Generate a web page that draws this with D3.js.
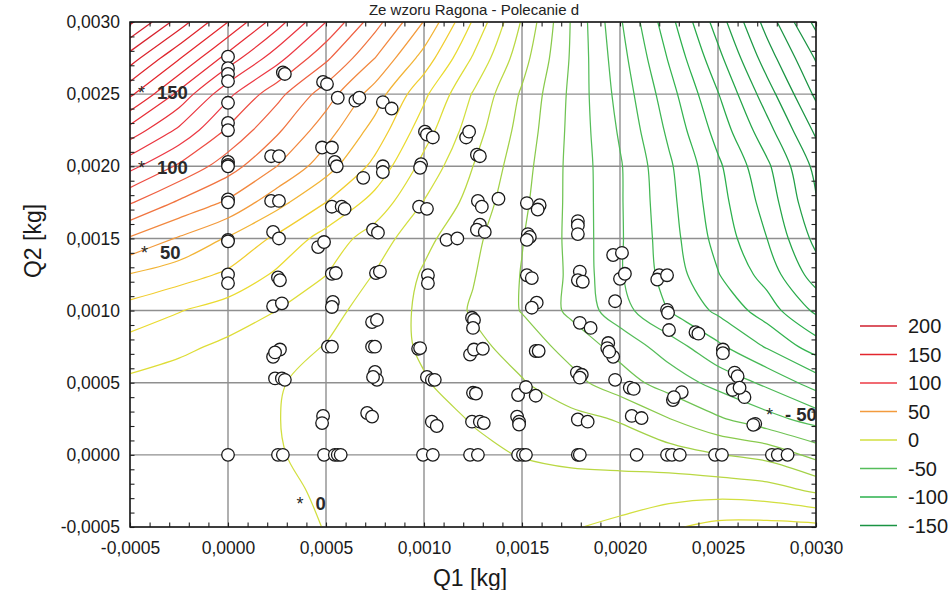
<!DOCTYPE html>
<html>
<head>
<meta charset="utf-8">
<script src="https://cdn.jsdelivr.net/npm/d3@7"></script>
<style>
  html, body { margin: 0; padding: 0; background: #ffffff; }
  svg { display: block; font-family: "Liberation Sans", Arial, Helvetica, sans-serif; }
</style>
</head>
<body>
<svg id="chart" width="952" height="590"></svg>
<script>
// ---- fitted response surface, sampled on a regular grid (Q1 across, Q2 down) ----
const gridQ1 = [-0.0005, -0.00025, 0, 0.00025, 0.0005, 0.00075, 0.001, 0.00125, 0.0015, 0.00175, 0.002, 0.00225, 0.0025, 0.00275, 0.003];
const gridQ2 = [0.003, 0.00275, 0.0025, 0.00225, 0.002, 0.00175, 0.0015, 0.00125, 0.001, 0.00075, 0.0005, 0.00025, 0, -0.00025, -0.0005];
const surface = [
  [202, 175.5, 150, 124.5, 100, 74, 49.5, 19, -11, -40.5, -68.7, -96.3, -124.7, -154, -183],
  [175, 151, 126, 104, 82, 60, 36, 9, -16, -41, -66, -91, -117, -145, -171],
  [152, 127.3, 102.5, 83.3, 64.8, 45.3, 22.2, -0.8, -21.4, -42, -63.6, -85.9, -109.5, -135.3, -162],
  [126, 108, 88.5, 71.7, 54.5, 36.2, 14.5, -5.4, -23.8, -42.4, -61.3, -82.1, -103.8, -126.4, -152],
  [103, 88.4, 74.5, 60, 44.2, 27.1, 6.7, -10, -26.1, -42.7, -59, -78.3, -98.1, -118, -143],
  [81, 68.5, 58.4, 43.4, 30, 16.2, -0.4, -13.7, -27.8, -42.5, -58.9, -76.9, -95.9, -114, -139],
  [59, 49, 39, 28, 15.9, 5.3, -7.4, -17.4, -29.5, -42.4, -58.8, -75.7, -93.5, -110, -133],
  [39.5, 34.3, 28.3, 18.3, 10.2, -0.5, -11.2, -19.3, -30.5, -41.8, -59, -74.2, -89.5, -104, -125],
  [26, 20.5, 15.2, 10, 3.2, -4.1, -12, -21.1, -30.5, -42.2, -55.7, -70.3, -82, -95, -112],
  [16, 12.1, 8, 3.8, -0.4, -5.8, -11.2, -17.1, -24.5, -33.6, -43.6, -54.8, -68, -81, -95],
  [8, 5.5, 3.1, 0.6, -2.5, -6, -9.4, -14.2, -19.2, -26.8, -35.5, -44.4, -53.3, -62.2, -74.5],
  [7, 4.7, 2.4, 0.2, -2.5, -5.1, -7.7, -10.4, -13.7, -17, -20.9, -29.8, -38.7, -46.5, -54.2],
  [6, 4.1, 2.3, 0.4, -1.7, -3.9, -6.1, -8.5, -10.3, -12, -13.4, -15.3, -19.6, -23, -33.1],
  [6, 4.5, 3, 1.2, -0.8, -3, -5, -6.5, -7, -6.5, -5.7, -4.7, -3.9, -5.7, -11.3],
  [6, 5, 3.8, 2, -0.2, -2.5, -4.5, -5.5, -3.5, -0.8, 2.5, 8.7, 13, 13.5, 12.6]
];

// ---- isoline levels and their colours ----
const contourLevels = [-180, -170, -160, -150, -140, -130, -120, -110, -100, -90, -80, -70, -60, -50, -40, -30, -20, -10,
                       0, 10, 20, 30, 40, 50, 60, 70, 80, 90, 100, 110, 120, 130, 140, 150, 160, 170, 180, 190, 200];
const legendLevels = [200, 150, 100, 50, 0, -50, -100, -150];
const legendColors = ["#cf1f2e", "#e3262d", "#ec3a45", "#f39b3d", "#d2df3f", "#55bd5a", "#2bb04c", "#1a9443"];
const rampLevels = [200, 150, 100, 50, 25, 0, -25, -50, -100, -150];
const rampColors = ["#cf1f2e", "#e3262d", "#ec3a45", "#f39b3d", "#f0da2c", "#d2df3f", "#96cd49", "#55bd5a", "#2bb04c", "#1a9443"];

// ---- labelled isolines ----
const labelTexts = ["150", "100", "50", "0", "- 50"];
const labelQ1 = [-0.000434, -0.000434, -0.000418, 0.000375, 0.00277];
const labelQ2 = [0.002536, 0.002017, 0.001428, -0.000312, 0.000305];

// ---- observations ----
const obsQ1 = [
  0, 0, 0, 0, 0, 0, 0, 0, 0, 0, 0, 0, 0, 0, 0, 0, 0,
  0.00028, 0.00029, 0.00022, 0.00026, 0.00022, 0.00026, 0.00023, 0.00026, 0.000255, 0.000265,
  0.00023, 0.000275, 0.00023, 0.000265, 0.00024, 0.00024, 0.000275, 0.00029, 0.000255, 0.00028,
  0.000485, 0.000505, 0.00048, 0.00053, 0.000545, 0.000555, 0.00053, 0.00058, 0.000595, 0.00046,
  0.00049, 0.00053, 0.00055, 0.000535, 0.00053, 0.00051, 0.00053, 0.000485, 0.00048, 0.00049,
  0.000545, 0.00056, 0.000575,
  0.00056, 0.00065, 0.00067, 0.00079, 0.000835, 0.00069, 0.00079, 0.00079, 0.00074, 0.000765,
  0.000755, 0.000775, 0.000735, 0.00076, 0.000735, 0.00075, 0.00075, 0.00076, 0.00074, 0.00071, 0.000735,
  0.001005, 0.001015, 0.001045, 0.000985, 0.00098, 0.000975, 0.001015, 0.00102, 0.00102, 0.00097,
  0.00098, 0.001015, 0.00104, 0.001055, 0.00104, 0.001065, 0.000995, 0.001045,
  0.001215, 0.00123, 0.00127, 0.001285, 0.001275, 0.001295, 0.00138, 0.001285, 0.00127, 0.00131,
  0.001115, 0.00117, 0.001245, 0.001255, 0.00125, 0.001235, 0.001255, 0.0013, 0.00125, 0.001265,
  0.001245, 0.001285, 0.001305, 0.001235, 0.001275,
  0.001525, 0.00159, 0.00158, 0.00153, 0.00154, 0.001525, 0.001525, 0.00155, 0.001575, 0.00155,
  0.00157, 0.001585, 0.00148, 0.00152, 0.00157, 0.001475, 0.001485, 0.001485, 0.00148, 0.001505, 0.00152,
  0.001785, 0.001785, 0.001785, 0.001795, 0.001785, 0.00181, 0.001795, 0.00185, 0.00178, 0.001805,
  0.001795, 0.001785, 0.001835, 0.001785, 0.001795,
  0.001965, 0.00201, 0.002, 0.002025, 0.001975, 0.00194, 0.001935, 0.001965, 0.001945, 0.001975,
  0.00205, 0.00207, 0.00206, 0.00211, 0.002085,
  0.0022, 0.00219, 0.00224, 0.00224, 0.002245, 0.00225, 0.002385, 0.0024, 0.00227, 0.002315,
  0.002275, 0.00224, 0.002265, 0.002305,
  0.002525, 0.002525, 0.002585, 0.0026, 0.002575, 0.002635, 0.00261, 0.00269, 0.00268, 0.002485,
  0.00252, 0.002775, 0.002805, 0.002855
];
const obsQ2 = [
  0.00276, 0.00268, 0.00264, 0.00259, 0.00244, 0.0023, 0.00225, 0.00203, 0.00201, 0.002, 0.00177, 0.00175,
  0.00149, 0.00148, 0.00125, 0.00119, 0,
  0.00265, 0.00264, 0.00207, 0.00207, 0.00176, 0.00176, 0.001545, 0.0015, 0.00123, 0.00121,
  0.00103, 0.00105, 0.00068, 0.00073, 0.00071, 0.00053, 0.00053, 0.00052, 0, 0,
  0.002585, 0.00257, 0.00213, 0.00213, 0.00203, 0.002, 0.00172, 0.00172, 0.001705, 0.00144,
  0.001475, 0.001255, 0.00126, 0.00106, 0.001025, 0.00075, 0.00075, 0.00027, 0.00022, 0,
  0, 0, 0,
  0.002475, 0.002455, 0.002475, 0.002445, 0.0024, 0.00192, 0.002, 0.00196, 0.00156, 0.00154,
  0.00126, 0.00127, 0.00092, 0.000935, 0.00075, 0.00075, 0.000575, 0.00052, 0.00054, 0.00029, 0.000265,
  0.00224, 0.00222, 0.0022, 0.002015, 0.00199, 0.00172, 0.001705, 0.001245, 0.00119, 0.000735,
  0.00074, 0.00054, 0.00052, 0.00052, 0.00023, 0.0002, 0, 0,
  0.0022, 0.00224, 0.00208, 0.00207, 0.00176, 0.00172, 0.001775, 0.001595, 0.00156, 0.001545,
  0.00149, 0.0015, 0.00095, 0.000935, 0.00088, 0.000695, 0.00073, 0.000735, 0.00043, 0.000425,
  0.00023, 0.00023, 0.00022, 0, 0,
  0.001745, 0.00173, 0.0017, 0.00153, 0.00151, 0.00149, 0.001245, 0.001225, 0.001055, 0.00102,
  0.00072, 0.00072, 0.000415, 0.00047, 0.00041, 0.000265, 0.00023, 0.00021, 0, 0, 0,
  0.00162, 0.00159, 0.00153, 0.00127, 0.00121, 0.0012, 0.000915, 0.00088, 0.00057, 0.000555,
  0.000535, 0.000245, 0.00023, 0, 0,
  0.001385, 0.0014, 0.00122, 0.001255, 0.001065, 0.000775, 0.00074, 0.00068, 0.000715, 0.00052,
  0.000465, 0.000457, 0.00027, 0.000255, 0,
  0.001245, 0.001215, 0.001245, 0.001005, 0.000985, 0.000865, 0.00085, 0.00084, 0.00038, 0.000435,
  0.0004, 0, 0, 0,
  0.00073, 0.000705, 0.00057, 0.000545, 0.00045, 0.0004, 0.000465, 0.000215, 0.000208, 0,
  0, 0, 0, 0
];

// ---- axes ----
const tickValues = [-0.0005, 0, 0.0005, 0.001, 0.0015, 0.002, 0.0025, 0.003];
const xTickLabels = ["-0,0005", "0,0000", "0,0005", "0,0010", "0,0015", "0,0020", "0,0025", "0,0030"];
const yTickLabels = ["-0,0005", "0,0000", "0,0005", "0,0010", "0,0015", "0,0020", "0,0025", "0,0030"];
const titleText = "Ze wzoru Ragona - Polecanie d";

const svg = d3.select("#chart");
const plot = { left: 130, right: 816, top: 22, bottom: 527 };

const x = d3.scaleLinear().domain([-0.0005, 0.003]).range([plot.left, plot.right]);
const y = d3.scaleLinear().domain([-0.0005, 0.003]).range([plot.bottom, plot.top]);
const levelColor = d3.scaleLinear().domain(rampLevels).range(rampColors).clamp(true);

svg.append("defs").append("clipPath").attr("id", "plot-clip")
  .append("rect")
  .attr("x", plot.left).attr("y", plot.top)
  .attr("width", plot.right - plot.left).attr("height", plot.bottom - plot.top);

// title above the plot frame
svg.append("text")
  .attr("x", 474).attr("y", 15)
  .attr("text-anchor", "middle")
  .attr("font-size", 15)
  .attr("fill", "#222")
  .text(titleText);

// grid lines
const grid = svg.append("g").attr("stroke", "#8f8f8f").attr("stroke-width", 1.4);
grid.selectAll("line.gx").data(tickValues).join("line")
  .attr("x1", d => x(d)).attr("x2", d => x(d))
  .attr("y1", plot.top).attr("y2", plot.bottom);
grid.selectAll("line.gy").data(tickValues).join("line")
  .attr("y1", d => y(d)).attr("y2", d => y(d))
  .attr("x1", plot.left).attr("x2", plot.right);

// ---- isolines from the gridded surface ----
const nx = gridQ1.length, ny = gridQ2.length;
const contours = d3.contours().size([nx, ny]).thresholds(contourLevels)(surface.flat());
const gx = d3.scaleLinear().domain([0.5, nx - 0.5]).range([x(gridQ1[0]), x(gridQ1[nx - 1])]);
const gy = d3.scaleLinear().domain([0.5, ny - 0.5]).range([y(gridQ2[0]), y(gridQ2[ny - 1])]);

// split the closed contour rings into open isolines, dropping the parts that run along the grid border
function isolines(geometry) {
  const out = [];
  const onBorder = p => p[0] <= 0 || p[0] >= nx || p[1] <= 0 || p[1] >= ny;
  for (const polygon of geometry.coordinates) {
    for (const ring of polygon) {
      let pts = ring.slice();
      const a = pts[0], b = pts[pts.length - 1];
      if (pts.length > 1 && a[0] === b[0] && a[1] === b[1]) pts.pop();
      const n = pts.length;
      const start = pts.findIndex(onBorder);
      if (start < 0) { out.push({ pts: pts, closed: true }); continue; }
      let cur = [];
      for (let k = 1; k <= n; k++) {
        const p = pts[(start + k) % n];
        if (onBorder(p)) { if (cur.length > 1) out.push({ pts: cur, closed: false }); cur = []; }
        else cur.push(p);
      }
      if (cur.length > 1) out.push({ pts: cur, closed: false });
    }
  }
  return out;
}

const openLine = d3.line().x(p => gx(p[0])).y(p => gy(p[1])).curve(d3.curveCatmullRom.alpha(0.5));
const closedLine = d3.line().x(p => gx(p[0])).y(p => gy(p[1])).curve(d3.curveCatmullRomClosed.alpha(0.5));

const isoGroup = svg.append("g").attr("clip-path", "url(#plot-clip)").attr("fill", "none").attr("stroke-width", 1.25);
contours.forEach(c => {
  isolines(c).forEach(seg => {
    isoGroup.append("path")
      .attr("d", seg.closed ? closedLine(seg.pts) : openLine(seg.pts))
      .attr("stroke", levelColor(c.value));
  });
});

// inner tick marks on all four sides
const minorTicks = x.ticks(35);
const tickGroups = [
  { axis: d3.axisTop(x), t: `translate(0,${plot.top})` },
  { axis: d3.axisBottom(x), t: `translate(0,${plot.bottom})` },
  { axis: d3.axisLeft(y), t: `translate(${plot.left},0)` },
  { axis: d3.axisRight(y), t: `translate(${plot.right},0)` }
];
tickGroups.forEach(g => {
  const sel = svg.append("g").attr("transform", g.t)
    .call(g.axis.tickValues(minorTicks).tickSize(-4.5).tickFormat(""));
  sel.select(".domain").remove();
  sel.selectAll("line").attr("stroke", "#222").attr("stroke-width", 1.1);
});

// frame
svg.append("rect")
  .attr("x", plot.left).attr("y", plot.top)
  .attr("width", plot.right - plot.left).attr("height", plot.bottom - plot.top)
  .attr("fill", "none").attr("stroke", "#1a1a1a").attr("stroke-width", 1.5);

// tick labels
const xAxis = svg.append("g").attr("transform", `translate(0,${plot.bottom})`)
  .call(d3.axisBottom(x).tickValues(tickValues).tickSize(0).tickPadding(15)
    .tickFormat((d, i) => xTickLabels[i]));
const yAxis = svg.append("g").attr("transform", `translate(${plot.left},0)`)
  .call(d3.axisLeft(y).tickValues(tickValues).tickSize(0).tickPadding(10)
    .tickFormat((d, i) => yTickLabels[i]));
[xAxis, yAxis].forEach(a => {
  a.select(".domain").remove();
  a.selectAll("text").attr("font-size", 17.5).attr("fill", "#1a1a1a")
    .attr("font-family", "'Liberation Sans', Arial, sans-serif");
});

// axis titles
svg.append("text")
  .attr("x", 470).attr("y", 586)
  .attr("text-anchor", "middle").attr("font-size", 23).attr("fill", "#1a1a1a")
  .text("Q1 [kg]");
svg.append("text")
  .attr("transform", "translate(41,241) rotate(-90)")
  .attr("text-anchor", "middle").attr("font-size", 23).attr("fill", "#1a1a1a")
  .text("Q2 [kg]");

// observations
svg.append("g")
  .selectAll("circle").data(obsQ1.map((q, i) => [q, obsQ2[i]])).join("circle")
  .attr("cx", d => x(d[0])).attr("cy", d => y(d[1]))
  .attr("r", 6.3)
  .attr("fill", "#ffffff").attr("stroke", "#1a1a1a").attr("stroke-width", 1.3);

// isoline labels
const labels = svg.append("g").attr("fill", "#2a2a2a");
labelTexts.forEach((t, i) => {
  const px = x(labelQ1[i]), py = y(labelQ2[i]);
  labels.append("text").attr("x", px - 5).attr("y", py + 10).attr("font-size", 18).text("*");
  labels.append("text").attr("x", px + 14).attr("y", py + 10)
    .attr("font-size", 18.5).attr("font-weight", "bold").text(t);
});

// legend
const legend = svg.append("g");
legendLevels.forEach((lv, i) => {
  const ly = 326 + i * 28.5;
  legend.append("line")
    .attr("x1", 860).attr("x2", 897).attr("y1", ly).attr("y2", ly)
    .attr("stroke", legendColors[i]).attr("stroke-width", 1.5);
  legend.append("text")
    .attr("x", 908).attr("y", ly).attr("dy", "0.36em")
    .attr("font-size", 20).attr("fill", "#1a1a1a")
    .text(lv);
});
</script>
</body>
</html>
